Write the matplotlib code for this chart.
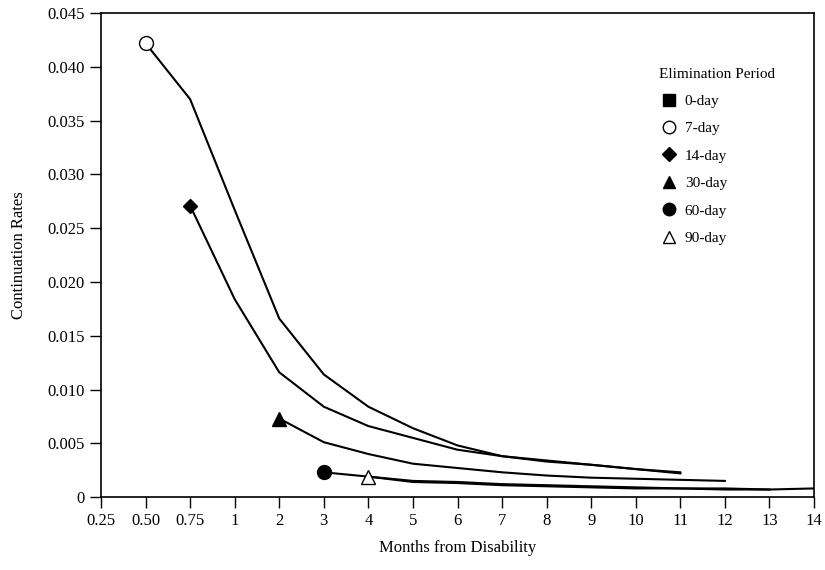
import matplotlib
matplotlib.use("Agg")
import matplotlib.pyplot as plt
from matplotlib.lines import Line2D

# x axis is categorical: equally spaced month labels
month_labels = ["0.25", "0.50", "0.75", "1", "2", "3", "4", "5", "6", "7",
                "8", "9", "10", "11", "12", "13", "14"]

# each series starts at a given month index (into month_labels)
start_7 = 1
rates_7 = [0.0422, 0.0370, 0.0267, 0.0166, 0.0114, 0.0084, 0.0064, 0.0048,
           0.0038, 0.0034, 0.0030, 0.0026, 0.0023]

start_14 = 2
rates_14 = [0.0271, 0.0184, 0.0116, 0.0084, 0.0066, 0.0055, 0.0044,
            0.0038, 0.0033, 0.0030, 0.0026, 0.0022]

start_30 = 4
rates_30 = [0.0073, 0.0051, 0.0040, 0.0031, 0.0027, 0.0023, 0.0020,
            0.0018, 0.0017, 0.0016, 0.0015]

start_60 = 5
rates_60 = [0.0023, 0.0019, 0.0015, 0.0014, 0.0012, 0.0011, 0.0010,
            0.0009, 0.0008, 0.0008, 0.0007]

start_90 = 6
rates_90 = [0.0019, 0.0014, 0.0013, 0.0011, 0.0010, 0.0009, 0.0008,
            0.0008, 0.0007, 0.0007, 0.0008]

legend_labels = ["0-day", "7-day", "14-day", "30-day", "60-day", "90-day"]

plt.rcParams["font.family"] = ["Liberation Serif", "DejaVu Serif"]
plt.rcParams["font.size"] = 12

fig = plt.figure(figsize=(8.25, 5.7), dpi=100)
ax = fig.add_axes([0.1224, 0.128, 0.8643, 0.849])

series = [
    (start_7, rates_7, "o", "white"),
    (start_14, rates_14, "D", "black"),
    (start_30, rates_30, "^", "black"),
    (start_60, rates_60, "o", "black"),
    (start_90, rates_90, "^", "white"),
]
sizes = {"o": 10, "D": 7, "^": 10}

for start, rates, marker, face in series:
    xs = list(range(start, start + len(rates)))
    ax.plot(xs, rates, color="black", lw=1.5, zorder=2)
    # marker only on the first point
    ax.plot(xs[:1], rates[:1], marker=marker, ms=sizes[marker],
            mfc=face, mec="black", mew=1.0, ls="none", zorder=3)

ax.set_xlim(0, len(month_labels) - 1)
ax.set_ylim(0, 0.045)
ax.set_xticks(range(len(month_labels)))
ax.set_xticklabels(month_labels)
yticks = [i * 0.005 for i in range(10)]
ax.set_yticks(yticks)
ax.set_yticklabels(["0"] + ["%.3f" % v for v in yticks[1:]])
ax.tick_params(direction="out", length=8, width=1, colors="black")
for sp in ax.spines.values():
    sp.set_linewidth(1.2)

ax.set_xlabel("Months from Disability", labelpad=8)
ax.set_ylabel("Continuation Rates", labelpad=15)

handles = [
    Line2D([], [], marker="s", ls="none", mfc="black", mec="black", ms=9),
    Line2D([], [], marker="o", ls="none", mfc="white", mec="black", ms=9),
    Line2D([], [], marker="D", ls="none", mfc="black", mec="black", ms=7),
    Line2D([], [], marker="^", ls="none", mfc="black", mec="black", ms=9),
    Line2D([], [], marker="o", ls="none", mfc="black", mec="black", ms=9),
    Line2D([], [], marker="^", ls="none", mfc="white", mec="black", ms=9),
]
leg = ax.legend(handles, legend_labels, title="Elimination Period",
                frameon=False, loc="upper left",
                bbox_to_anchor=(0.764, 0.916), handletextpad=0.45,
                labelspacing=0.9, fontsize=11, title_fontsize=11,
                handlelength=1.2)
leg._legend_box.align = "left"

fig.savefig("out.png", dpi=100)
